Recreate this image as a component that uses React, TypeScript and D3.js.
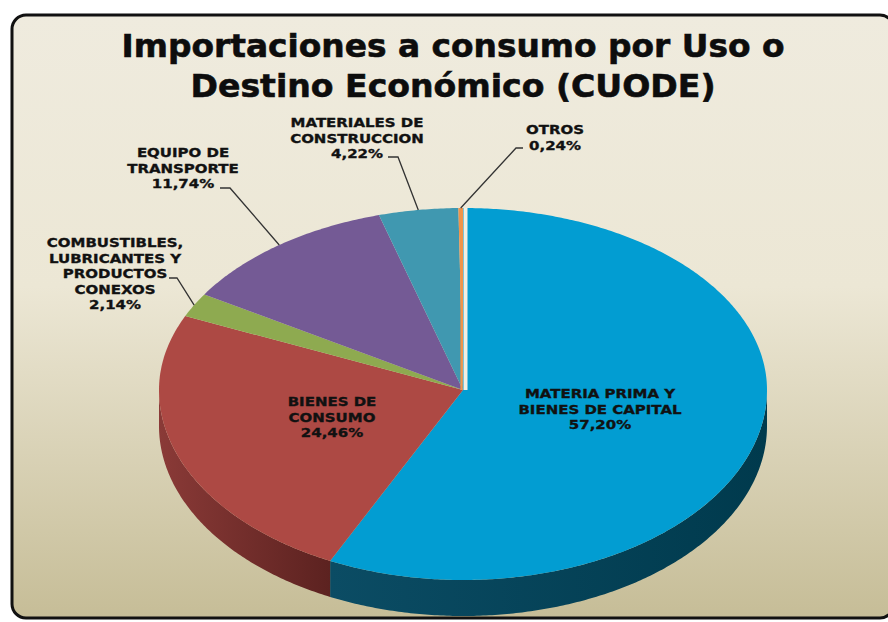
import { useRef, useEffect } from 'react';
import * as d3 from 'd3';

// Data (clockwise from 12 o'clock)
const categories = [
  ['MATERIA PRIMA Y', 'BIENES DE CAPITAL'],
  ['BIENES DE', 'CONSUMO'],
  ['COMBUSTIBLES,', 'LUBRICANTES Y', 'PRODUCTOS', 'CONEXOS'],
  ['EQUIPO DE', 'TRANSPORTE'],
  ['MATERIALES DE', 'CONSTRUCCION'],
  ['OTROS'],
];
const shares = [57.2, 24.46, 2.14, 11.74, 4.22, 0.24];
const pctLabels = ['57,20%', '24,46%', '2,14%', '11,74%', '4,22%', '0,24%'];

const TOP_COLORS = ['#029dd2', '#ad4944', '#8eaa50', '#745a95', '#4098b0', '#f0944b'];
const SIDE_COLORS = [['#0b4c64', '#003a4d'], ['#8a3a37', '#5c2220'], ['#6f873c', '#55692d'], ['#5a4675', '#463658'], ['#2f7387', '#245a6a'], ['#c0763a', '#9a5c2c']];

// label layout: centre x, first baseline, leader elbow/tail (null = inside the slice)
const LABEL_POS = [
  { x: 600, y: 398, leader: null },
  { x: 332, y: 406, leader: null },
  { x: 115, y: 247, leader: [177, 278, 169] },
  { x: 183, y: 157, leader: [230, 188, 220] },
  { x: 357, y: 127, leader: [398, 157, 388] },
  { x: 555, y: 134, leader: [516, 148, 523] },
];

const W = 888;
const H = 622;

export default function App() {
  const svgRef = useRef<SVGSVGElement | null>(null);

  useEffect(() => {
    const svg = d3.select(svgRef.current);
    svg.selectAll('*').remove();

    // slight perspective: the near half of the ellipse is taller than the far half
    const cx = 463, cy = 390, rx = 304, ryBack = 182, ryFront = 190, depth = 36;

    const defs = svg.append('defs');
    const bg = defs.append('linearGradient').attr('id', 'bg').attr('x1', 0).attr('y1', 0).attr('x2', 0).attr('y2', 1);
    bg.append('stop').attr('offset', '0%').attr('stop-color', '#efebde');
    bg.append('stop').attr('offset', '45%').attr('stop-color', '#ece7d5');
    bg.append('stop').attr('offset', '100%').attr('stop-color', '#c6bd97');
    SIDE_COLORS.forEach((c, i) => {
      const g = defs.append('linearGradient').attr('id', `side${i}`).attr('x1', 0).attr('y1', 0).attr('x2', 1).attr('y2', 0);
      g.append('stop').attr('offset', '0%').attr('stop-color', c[0]);
      g.append('stop').attr('offset', '100%').attr('stop-color', c[1]);
    });

    // frame
    svg.append('rect')
      .attr('x', 12).attr('y', 15).attr('width', 882).attr('height', 603)
      .attr('rx', 14)
      .attr('fill', 'url(#bg)')
      .attr('stroke', '#111').attr('stroke-width', 3);

    // title
    const title = ['Importaciones a consumo por Uso o', 'Destino Económico (CUODE)'];
    const titleLen = [663, 525];
    title.forEach((t, i) => {
      svg.append('text')
        .attr('x', 453).attr('y', 57 + i * 40)
        .attr('text-anchor', 'middle')
        .attr('font-family', '"DejaVu Sans", Verdana, sans-serif')
        .attr('font-weight', 'bold')
        .attr('font-size', 32)
        .attr('textLength', titleLen[i])
        .attr('lengthAdjust', 'spacingAndGlyphs')
        .attr('fill', '#0d0d0d')
        .attr('stroke', '#0d0d0d').attr('stroke-width', 0.6)
        .text(t);
    });

    const arcs = d3.pie<number>().sort(null).value(d => d)(shares);
    const pt = (a: number): [number, number] => {
      const c = Math.cos(a);
      const ry = c > 0 ? ryBack : ryFront;
      return [cx + rx * Math.sin(a), cy - ry * c];
    };
    const rim = (a0: number, a1: number, dy = 0) => {
      const n = Math.max(2, Math.ceil(Math.abs(a1 - a0) / 0.01));
      return d3.range(n + 1).map(k => {
        const p = pt(a0 + (a1 - a0) * k / n);
        return [p[0], p[1] + dy] as [number, number];
      });
    };
    const line = d3.line();

    // side walls (front half only)
    arcs.forEach((a, i) => {
      const s = Math.max(a.startAngle, Math.PI / 2);
      const e = Math.min(a.endAngle, Math.PI * 1.5);
      if (e <= s) return;
      const pts = [...rim(s, e), ...rim(e, s, depth)];
      svg.append('path').attr('d', line(pts) + 'Z').attr('fill', `url(#side${i})`);
    });

    // top faces
    arcs.forEach((a, i) => {
      const pts: [number, number][] = [[cx, cy], ...rim(a.startAngle, a.endAngle)];
      svg.append('path').attr('d', line(pts) + 'Z').attr('fill', TOP_COLORS[i]);
    });

    // light seam between the first slice and the rest at 12 o'clock
    const top = pt(0);
    svg.append('line')
      .attr('x1', cx + 2.5).attr('y1', cy).attr('x2', top[0] + 2.5).attr('y2', top[1])
      .attr('stroke', '#f3efe3').attr('stroke-width', 4);
    svg.append('line')
      .attr('x1', cx - 1.5).attr('y1', cy).attr('x2', top[0] - 1.5).attr('y2', top[1])
      .attr('stroke', '#f0944b').attr('stroke-width', 2.2);

    // leader lines
    arcs.forEach((a, i) => {
      const lp = LABEL_POS[i];
      if (!lp.leader) return;
      const m = (a.startAngle + a.endAngle) / 2;
      const e = pt(m);
      const [ex, ey, tx] = lp.leader;
      svg.append('path')
        .attr('d', `M${e[0]},${e[1]} L${ex},${ey} L${tx},${ey}`)
        .attr('fill', 'none').attr('stroke', '#333').attr('stroke-width', 1.3);
    });

    // labels
    arcs.forEach((a, i) => {
      const lp = LABEL_POS[i];
      const lines = [...categories[i], pctLabels[i]];
      const g = svg.append('g').attr('transform', `translate(${lp.x},${lp.y}) scale(1.17,1)`);
      lines.forEach((l, j) => {
        g.append('text')
          .attr('x', 0).attr('y', j * 15.6)
          .attr('text-anchor', 'middle')
          .attr('font-family', '"DejaVu Sans", Verdana, sans-serif')
          .attr('font-weight', 'bold')
          .attr('font-size', 12.8)
          .attr('fill', '#111')
          .attr('stroke', '#111').attr('stroke-width', 0.35)
          .text(l);
      });
    });
  }, []);

  return (
    <svg
      ref={svgRef}
      width={W}
      height={H}
      style={{ position: 'absolute', left: 0, top: 0, background: '#fff' }}
    />
  );
}
